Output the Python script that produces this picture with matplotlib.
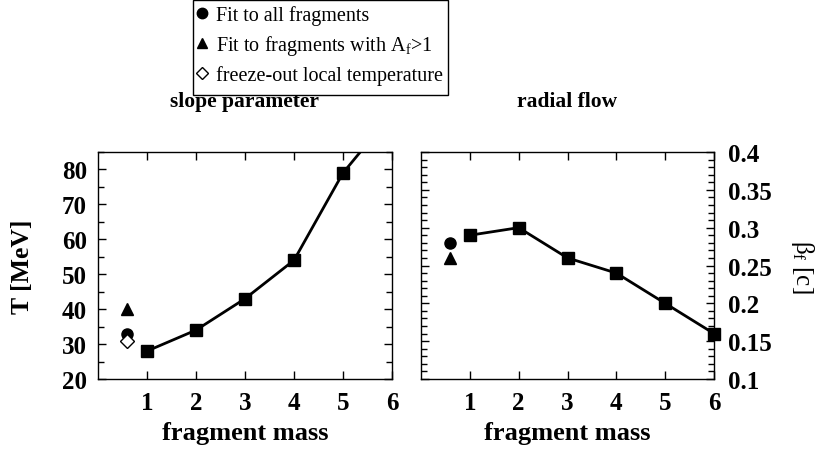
import numpy as np
import matplotlib
matplotlib.use("Agg")
import matplotlib.pyplot as plt
from matplotlib.lines import Line2D
from matplotlib.patches import Rectangle
from matplotlib.ticker import MultipleLocator, FuncFormatter

plt.rcParams["font.family"] = ["Liberation Serif", "DejaVu Serif"]
plt.rcParams["mathtext.fontset"] = "custom"
plt.rcParams["mathtext.rm"] = "Liberation Serif"
plt.rcParams["mathtext.it"] = "Liberation Serif:italic"

# data
mass = [1, 2, 3, 4, 5, 6]
slope_T = [28, 34, 43, 54, 79, 96]
flow_beta = [0.29, 0.30, 0.26, 0.24, 0.20, 0.16]

extra_x = 0.6
T_all, T_af1, T_freeze = 33, 40, 31
beta_all, beta_af1 = 0.28, 0.26

W, H = 815, 452
fig = plt.figure(figsize=(W / 100, H / 100), dpi=100)
ax1 = fig.add_axes([98 / W, 1 - 380 / H, 294 / W, 227 / H])
ax2 = fig.add_axes([421 / W, 1 - 380 / H, 293 / W, 227 / H])

ylims = {ax1: (20, 85), ax2: (0.1, 0.4)}

for ax, vals in ((ax1, slope_T), (ax2, flow_beta)):
    lo, hi = ylims[ax]
    ax.set_ylim(lo, hi)
    ax.plot(mass, vals, color="black", lw=2, clip_on=True)
    xs = [m for m, v in zip(mass, vals) if lo <= v <= hi]
    vs = [v for v in vals if lo <= v <= hi]
    ax.plot(xs, vs, ls="none", marker="s", ms=9, color="black", clip_on=False, zorder=4)
    ax.set_xlim(0, 6)
    ax.set_xticks([1, 2, 3, 4, 5, 6])
    ax.tick_params(which="both", direction="in", top=True, bottom=True,
                   left=True, right=True, width=1)
    ax.tick_params(which="major", length=6)
    ax.tick_params(which="minor", length=4)
    ax.tick_params(axis="x", pad=9)
    for s in ax.spines.values():
        s.set_linewidth(1)
    ax.set_xlabel("fragment mass", fontsize=19, fontweight="bold", labelpad=5)

# left: slope parameter
ax1.plot(extra_x, T_af1, marker="^", ms=9, color="black", ls="none")
ax1.plot(extra_x, T_all, marker="o", ms=8, color="black", ls="none")
ax1.plot(extra_x, T_freeze, marker="D", ms=7, mfc="white", mec="black", mew=1, ls="none")
ax1.yaxis.set_major_locator(MultipleLocator(10))
ax1.yaxis.set_minor_locator(MultipleLocator(5))
ax1.tick_params(axis="y", pad=8)
ax1.set_ylabel("T [MeV]", fontsize=18.5, fontweight="bold", labelpad=20)
ax1.set_title("slope parameter", fontsize=15.5, fontweight="bold", pad=33)

# right: radial flow
ax2.plot(extra_x, beta_all, marker="o", ms=8, color="black", ls="none")
ax2.plot(extra_x, beta_af1, marker="^", ms=9, color="black", ls="none")
ax2.yaxis.set_major_locator(MultipleLocator(0.05))
ax2.yaxis.set_minor_locator(MultipleLocator(0.01))
ax2.yaxis.set_major_formatter(FuncFormatter(lambda v, p: f"{v:g}"))
ax2.tick_params(axis="y", labelleft=False, labelright=True, pad=10)
ax2.yaxis.set_label_position("right")
ax2.set_ylabel(r"$\mathrm{\beta_f}$ [c]", fontsize=18, rotation=-90, labelpad=32)
ax2.set_title("radial flow", fontsize=15.5, fontweight="bold", pad=33)

for ax in (ax1, ax2):
    for lab in ax.get_xticklabels() + ax.get_yticklabels():
        lab.set_fontsize(18)
        lab.set_fontweight("bold")

# legend box with entries
fig.patches.append(Rectangle((193 / W, 1 - 96 / H), 255 / W, 95 / H,
                             transform=fig.transFigure, fill=False,
                             edgecolor="black", lw=1))
handles = [
    Line2D([], [], marker="o", color="black", ls="none", ms=7.5),
    Line2D([], [], marker="^", color="black", ls="none", ms=7.5),
    Line2D([], [], marker="D", mfc="white", mec="black", ls="none", ms=6),
]
labels = ["Fit to all fragments", r"Fit to fragments with A$_\mathrm{f}$>1",
          "freeze-out local temperature"]
fig.legend(handles, labels, loc="upper left", bbox_to_anchor=(192 / W, 1 - 2 / H),
           frameon=False, fontsize=14.5, handlelength=0.6, handletextpad=0.4,
           borderpad=0.2, labelspacing=0.4, borderaxespad=0.0)

fig.savefig("out.png", dpi=100)
